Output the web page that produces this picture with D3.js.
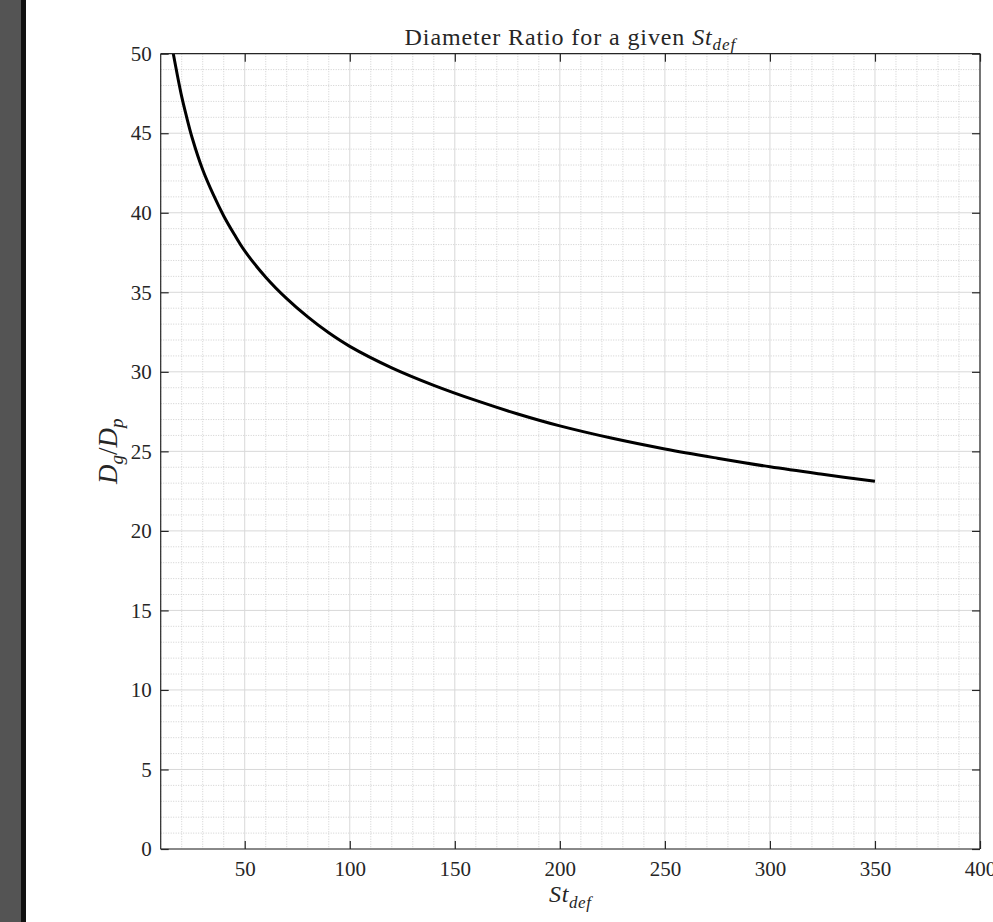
<!DOCTYPE html>
<html>
<head>
<meta charset="utf-8">
<script src="https://cdn.jsdelivr.net/npm/d3@7"></script>
<style>
  html, body { margin: 0; padding: 0; background: #fff; overflow: hidden; }
  svg { display: block; }
  text { font-family: "Liberation Serif", "DejaVu Serif", serif; fill: #262626; }
</style>
</head>
<body>
<script>
// ---- data ----
const stDef = [16, 18, 20, 22, 25, 30, 35, 40, 45, 50, 60, 70, 80, 90, 100, 120, 140, 160, 180, 200, 225, 250, 275, 300, 325, 350];
const ratio = [50.0, 48.6, 47.3, 46.2, 44.7, 42.7, 41.15, 39.8, 38.65, 37.6, 35.95, 34.6, 33.45, 32.45, 31.6, 30.25, 29.15, 28.2, 27.35, 26.6, 25.82, 25.15, 24.57, 24.03, 23.56, 23.12];
const xTicks = [50, 100, 150, 200, 250, 300, 350, 400];
const yTicks = [0, 5, 10, 15, 20, 25, 30, 35, 40, 45, 50];
const xDomain = [10, 400];
const yDomain = [0, 50];

const W = 993, H = 922;
const m = { left: 160.7, right: 980, top: 53.7, bottom: 849 };

const svg = d3.select("body").append("svg").attr("width", W).attr("height", H);

// left dark band
svg.append("rect").attr("x", 0).attr("y", 0).attr("width", 21).attr("height", H).attr("fill", "#545454");
svg.append("rect").attr("x", 21).attr("y", 0).attr("width", 5).attr("height", H).attr("fill", "#111");

const x = d3.scaleLinear().domain(xDomain).range([m.left, m.right]);
const y = d3.scaleLinear().domain(yDomain).range([m.bottom, m.top]);

const g = svg.append("g");

// minor grid
const xMinor = d3.range(10, 401, 10).filter(v => v % 50 !== 0);
const yMinor = d3.range(0, 51, 1).filter(v => v % 5 !== 0);
g.selectAll(".xm").data(xMinor).enter().append("line")
  .attr("x1", d => x(d)).attr("x2", d => x(d)).attr("y1", m.top).attr("y2", m.bottom)
  .attr("stroke", "#c4c4c4").attr("stroke-width", 0.8).attr("stroke-dasharray", "1,1.5");
g.selectAll(".ym").data(yMinor).enter().append("line")
  .attr("y1", d => y(d)).attr("y2", d => y(d)).attr("x1", m.left).attr("x2", m.right)
  .attr("stroke", "#c4c4c4").attr("stroke-width", 0.8).attr("stroke-dasharray", "1,1.5");
// major grid
g.selectAll(".xM").data(xTicks).enter().append("line")
  .attr("x1", d => x(d)).attr("x2", d => x(d)).attr("y1", m.top).attr("y2", m.bottom)
  .attr("stroke", "#d8d8d8").attr("stroke-width", 1);
g.selectAll(".yM").data(yTicks).enter().append("line")
  .attr("y1", d => y(d)).attr("y2", d => y(d)).attr("x1", m.left).attr("x2", m.right)
  .attr("stroke", "#d8d8d8").attr("stroke-width", 1);

// curve
const line = d3.line().x((d, i) => x(stDef[i])).y(d => y(d)).curve(d3.curveCatmullRom);
g.append("path").datum(ratio).attr("d", line)
  .attr("fill", "none").attr("stroke", "#000").attr("stroke-width", 3).attr("stroke-linejoin", "round");

// axes (ticks inside)
const axisColor = "#262626";
const tl = 8;
const xb = d3.axisBottom(x).tickValues(xTicks).tickSize(-tl).tickPadding(12).tickFormat(d3.format("d"));
const xt = d3.axisTop(x).tickValues(xTicks).tickSize(-tl).tickFormat("");
const yl = d3.axisLeft(y).tickValues(yTicks).tickSize(-tl).tickPadding(9).tickFormat(d3.format("d"));
const yr = d3.axisRight(y).tickValues(yTicks).tickSize(-tl).tickFormat("");

function style(sel) {
  sel.selectAll("path.domain").attr("stroke", axisColor).attr("stroke-width", 1.2);
  sel.selectAll(".tick line").attr("stroke", axisColor).attr("stroke-width", 1.2);
  sel.selectAll(".tick text").attr("fill", axisColor).style("font-size", "21px")
     .style("font-family", "'Liberation Serif', 'DejaVu Serif', serif");
}
svg.append("g").attr("transform", `translate(0,${m.bottom})`).call(xb).call(style)
  .call(s => s.select("path.domain").attr("d", `M${m.left},0H${m.right}`));
svg.append("g").attr("transform", `translate(0,${m.top})`).call(xt).call(style)
  .call(s => s.select("path.domain").attr("d", `M${m.left},0H${m.right}`));
svg.append("g").attr("transform", `translate(${m.left},0)`).call(yl).call(style)
  .call(s => s.select("path.domain").attr("d", `M0,${m.top}V${m.bottom}`));
svg.append("g").attr("transform", `translate(${m.right},0)`).call(yr).call(style)
  .call(s => s.select("path.domain").attr("d", `M0,${m.top}V${m.bottom}`));

const cx = (m.left + m.right) / 2;

// title
const title = svg.append("text").attr("x", cx).attr("y", 45).attr("text-anchor", "middle")
  .style("font-size", "24px").style("letter-spacing", "0.9px").attr("fill", "#111");
title.append("tspan").text("Diameter Ratio for a given ");
title.append("tspan").style("font-style", "italic").text("St");
title.append("tspan").style("font-style", "italic").style("font-size", "17px").attr("dy", 5).text("def");

// x label
const xl = svg.append("text").attr("x", cx).attr("y", 902).attr("text-anchor", "middle")
  .style("font-size", "24px").style("letter-spacing", "0.6px");
xl.append("tspan").style("font-style", "italic").text("St");
xl.append("tspan").style("font-style", "italic").style("font-size", "17px").attr("dy", 6).text("def");

// y label
const ylab = svg.append("text").attr("transform", `translate(117,${(m.top + m.bottom) / 2}) rotate(-90)`)
  .attr("text-anchor", "middle").style("font-size", "27px");
ylab.append("tspan").style("font-style", "italic").text("D");
ylab.append("tspan").style("font-style", "italic").style("font-size", "19px").attr("dy", 6).text("g");
ylab.append("tspan").attr("dy", -6).text("/");
ylab.append("tspan").style("font-style", "italic").text("D");
ylab.append("tspan").style("font-style", "italic").style("font-size", "19px").attr("dy", 6).text("p");
</script>
</body>
</html>
